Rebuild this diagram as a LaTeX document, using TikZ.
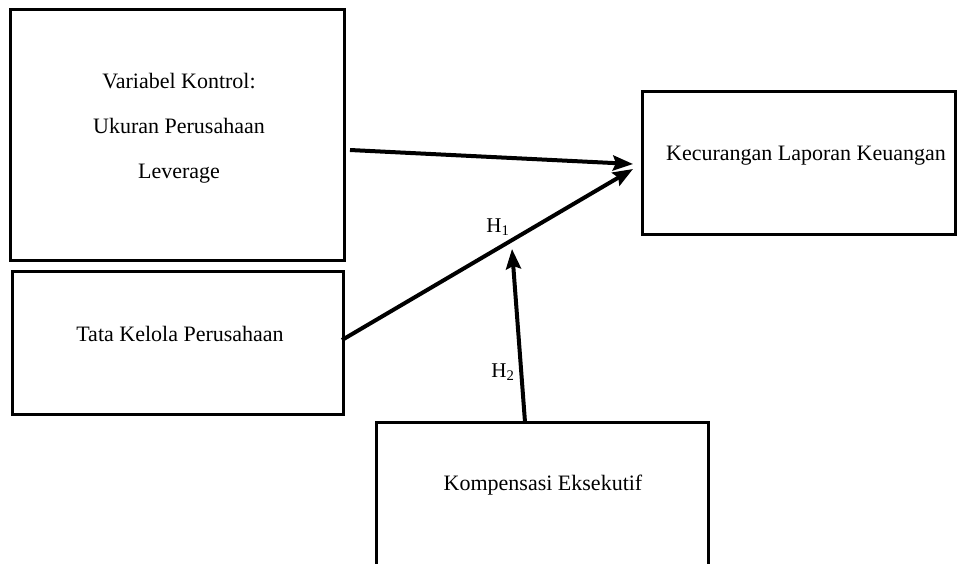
\documentclass[tikz,border=0pt]{standalone}
\usepackage{fontspec}
\setmainfont{Liberation Serif}
\usetikzlibrary{arrows.meta}
\begin{document}
\begin{tikzpicture}[x=1pt,y=-1pt,
  box/.style={draw=black,line width=3pt,inner sep=0pt},
  lbl/.style={anchor=base,inner sep=0pt,font=\fontsize{22}{26}\selectfont},
  hlbl/.style={anchor=base,inner sep=0pt,font=\fontsize{21}{24}\selectfont},
  conn/.style={line width=4pt,-{Stealth[length=20pt,width=15pt,inset=3pt]}}]
\useasboundingbox (0,0) rectangle (966,563);
\clip (0,0) rectangle (966,563);
% boxes
\draw[box] (10,9) rectangle (344,260);
\node[minimum width=334pt,minimum height=251pt,inner sep=0pt] (ctl) at (177,134.5) {};
\draw[box] (12,271) rectangle (343,414);
\node[minimum width=331pt,minimum height=143pt,inner sep=0pt] (gov) at (177.5,342.5) {};
\draw[box] (642,91) rectangle (955,234);
\node[minimum width=313pt,minimum height=143pt,inner sep=0pt] (fraud) at (798.5,162.5) {};
\draw[box] (376,580) -- (376,422) -- (708,422) -- (708,580);
\node[minimum width=332pt,minimum height=140pt,inner sep=0pt] (comp) at (542,492) {};
% texts
\node[lbl] (t1) at (179,88) {Variabel Kontrol:};
\node[lbl] (t2) at (179,133) {Ukuran Perusahaan};
\node[lbl] (t3) at (179,178) {Leverage};
\node[lbl] (t4) at (180,341) {Tata Kelola Perusahaan};
\node[lbl] (t5) at (806,160) {Kecurangan Laporan Keuangan};
\node[lbl] (t6) at (543,490) {Kompensasi Eksekutif};
\node[hlbl] (h1) at (498,232) {H\textsubscript{1}};
\node[hlbl] (h2) at (503,377) {H\textsubscript{2}};
% connector ends
\coordinate (a1s) at (350,150);
\coordinate (a1e) at (633,164);
\coordinate (a2s) at (342,340);
\coordinate (a2e) at (633,169);
\coordinate (a3s) at (525,422);
\coordinate (a3e) at (512,249);
\draw[conn] (a1s) -- (a1e);
\draw[conn] (a2s) -- (a2e);
\draw[conn] (a3s) -- (a3e);
\end{tikzpicture}
\end{document}
